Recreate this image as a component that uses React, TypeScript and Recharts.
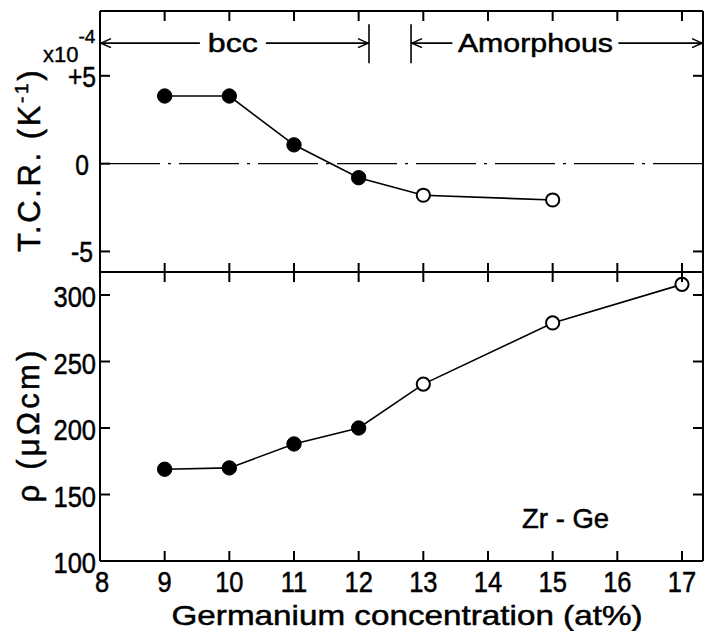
import React from 'react';
import { LineChart, Line, XAxis, YAxis, ReferenceLine, Label } from 'recharts';

// ---------- data ----------
const concentrations = [9, 10, 11, 12, 13, 15, 17];
const phases = ['bcc', 'bcc', 'bcc', 'bcc', 'amorphous', 'amorphous', 'amorphous'];
const tcrValues = [3.85, 3.85, 1.07, -0.8, -1.8, -2.07]; // x10^-4 K^-1 (9..15 at%)
const resistivityValues = [169, 170, 188, 200, 233, 279, 308]; // µΩcm
const xTicks = [8, 9, 10, 11, 12, 13, 14, 15, 16, 17];
const innerXTicks = [9, 10, 11, 12, 13, 14, 15, 16, 17];
const tcrTicks = [-5, 0, 5];
const tcrTickLabels = ['-5', '0', '+5'];
const tcrRightTicks = [-5, 5];
const rhoTicks = [100, 150, 200, 250, 300];
const rhoRightTicks = [150, 200, 250, 300];
const xDomain = [8, 17.325];
const tcrDomain = [-6.17, 8.69];
const rhoDomain = [100, 317.3];
const bccEnd = 12.16;
const amorphousStart = 12.81;
const regionArrowLevel = 6.86;
const regionBarRange = [5.71, 7.94];
const alloyLabel = 'Zr - Ge';
const alloyLabelPos = { x: 15.2, y: 132 };

const tcrRows = tcrValues.map((v, i) => ({ x: concentrations[i], y: v, phase: phases[i] }));
const rhoRows = resistivityValues.map((v, i) => ({ x: concentrations[i], y: v, phase: phases[i] }));

// plot-frame geometry (layout only)
const PLOT_WIDTH = 603;
const PLOT2_HEIGHT = 289;

const FONT = '"Liberation Sans", Arial, sans-serif';
const AX = { stroke: '#000', strokeWidth: 2 };

// ---------- shapes ----------
const PointDot = (props: any) => {
  const { cx, cy, payload } = props;
  if (cx == null || cy == null) return null;
  if (payload.phase === 'bcc') {
    return <circle cx={cx} cy={cy} r={7.2} fill="#000" stroke="#000" strokeWidth={1} />;
  }
  return <circle cx={cx} cy={cy} r={6.6} fill="#fff" stroke="#000" strokeWidth={2} />;
};

const makeSpanShape = (label: string, frac: number, halfGap: number, textLen: number) => (p: any) => {
  const { x1, x2, y1 } = p;
  const cx = x1 + (x2 - x1) * frac;
  const a = 11;
  const h = 4.5;
  return (
    <g>
      <line x1={x1} y1={y1} x2={cx - halfGap} y2={y1} stroke="#000" strokeWidth={1.6} />
      <line x1={cx + halfGap} y1={y1} x2={x2} y2={y1} stroke="#000" strokeWidth={1.6} />
      <path d={`M${x1 + a},${y1 - h} L${x1 + 1},${y1} L${x1 + a},${y1 + h}`} fill="none" stroke="#000" strokeWidth={1.6} />
      <path d={`M${x2 - a},${y1 - h} L${x2 - 1},${y1} L${x2 - a},${y1 + h}`} fill="none" stroke="#000" strokeWidth={1.6} />
      <text x={cx} y={y1 + 9} textAnchor="middle" fontSize={26} fontFamily={FONT} fill="#000"
        stroke="#000" strokeWidth={0.5} textLength={textLen} lengthAdjust="spacingAndGlyphs">{label}</text>
    </g>
  );
};

const TextShape = (p: any) => (
  <text x={p.x1} y={p.y1 + 10} textAnchor="middle" fontSize={28} fontFamily={FONT} fill="#000"
    stroke="#000" strokeWidth={0.5} textLength={87} lengthAdjust="spacingAndGlyphs">{alloyLabel}</text>
);

// ---------- ticks ----------
const TopTickEl = (p: any) => (
  <g>
    <path d={`M${p.x},${p.y} L${p.x},${p.y + 10}`} stroke="#000" strokeWidth={2} fill="none" />
  </g>
);
// bottom axis of lower panel: labels + inward ticks, plus the inward ticks on the shared divider
const bottomTickLabeled = (p: any) => {
  const v = p.payload.value;
  const top = p.y - PLOT2_HEIGHT;
  return (
    <g>
      {v !== 8 && <line x1={p.x} x2={p.x} y1={p.y} y2={p.y - 10} stroke="#000" strokeWidth={2} />}
      {v !== 8 && <line x1={p.x} x2={p.x} y1={top - 9} y2={top + 10} stroke="#000" strokeWidth={2} />}
      <text transform={`translate(${p.x + (v === 8 ? 2 : 0)},${p.y + 31}) scale(0.85,1)`}
        textAnchor="middle" fontSize={30} fontFamily={FONT} fill="#000" stroke="#000" strokeWidth={0.5}>
        {v}
      </text>
    </g>
  );
};
const tcrLeftTick = (p: any) => {
  const v = p.payload.value;
  const idx = tcrTicks.indexOf(v);
  const right = p.x + PLOT_WIDTH;
  return (
    <g>
      <line x1={p.x} x2={p.x + 10} y1={p.y} y2={p.y} stroke="#000" strokeWidth={2} />
      {tcrRightTicks.includes(v) && <line x1={right - 10} x2={right} y1={p.y} y2={p.y} stroke="#000" strokeWidth={2} />}
      <text transform={`translate(${p.x - 18},${p.y + 11}) scale(0.85,1)`} textAnchor="middle" fontSize={29}
        fontFamily={FONT} fill="#000" stroke="#000" strokeWidth={0.5}>{tcrTickLabels[idx]}</text>
    </g>
  );
};
const rhoLeftTick = (p: any) => {
  const v = p.payload.value;
  const right = p.x + PLOT_WIDTH;
  return (
    <g>
      {v !== 100 && <line x1={p.x} x2={p.x + 10} y1={p.y} y2={p.y} stroke="#000" strokeWidth={2} />}
      {rhoRightTicks.includes(v) && <line x1={right - 10} x2={right} y1={p.y} y2={p.y} stroke="#000" strokeWidth={2} />}
      <text transform={`translate(${p.x - 4},${p.y + 12}) scale(0.85,1)`} textAnchor="end" fontSize={30}
        fontFamily={FONT} fill="#000" stroke="#000" strokeWidth={0.5}>{v}</text>
    </g>
  );
};

// ---------- titles (chart-local coordinates) ----------
const TcrTitle = () => (
  <g>
    <text transform="translate(40,169) rotate(-90)" textAnchor="middle" fontSize={31} fontFamily={FONT}
      fill="#000" stroke="#000" strokeWidth={0.5} letterSpacing={2.6}>
      T.C.R. (K<tspan fontSize={19} dy={-12}>-1</tspan><tspan dy={12}>)</tspan>
    </text>
    <text x={43} y={71} fontSize={22} fontFamily={FONT} fill="#000" stroke="#000" strokeWidth={0.4}>
      x10<tspan fontSize={19} dy={-19}>-4</tspan>
    </text>
  </g>
);
const RhoTitle = () => (
  <text transform="translate(39,173) rotate(-90)" textAnchor="middle" fontSize={31} fontFamily={FONT}
    fill="#000" stroke="#000" strokeWidth={0.5} letterSpacing={3.2}>
    ρ (μΩcm)
  </text>
);
const XTitle = () => (
  <text x={407} y={373} textAnchor="middle" fontSize={28} fontFamily={FONT} fill="#000"
    stroke="#000" strokeWidth={0.5} textLength={471} lengthAdjust="spacingAndGlyphs">
    Germanium concentration (at%)
  </text>
);

export default function App() {
  return (
    <div style={{ position: 'absolute', left: 0, top: 0, width: 707, height: 631, background: '#fff', overflow: 'hidden' }}>
      <div style={{ position: 'absolute', left: 0, top: -9 }}>
        <LineChart width={723} height={301} data={tcrRows} margin={{ top: 0, right: 0, bottom: 0, left: 40 }}>
          <XAxis xAxisId="b" dataKey="x" type="number" domain={xDomain} allowDataOverflow ticks={xTicks}
            interval={0} orientation="bottom" height={20} tickLine={false} tick={false} axisLine={AX} />
          <XAxis xAxisId="t" dataKey="x" type="number" domain={xDomain} allowDataOverflow ticks={innerXTicks}
            interval={0} orientation="top" height={20} tickSize={0} tickMargin={0} tickLine={false}
            axisLine={AX} tick={<TopTickEl />}>
            <Label content={() => null} />
          </XAxis>
          <YAxis yAxisId="l" type="number" domain={tcrDomain} allowDataOverflow ticks={tcrTicks} interval={0}
            width={60} tickSize={0} tickMargin={0} tickLine={false} axisLine={AX} tick={tcrLeftTick}>
            <Label content={<TcrTitle />} />
          </YAxis>
          <YAxis yAxisId="r" orientation="right" type="number" domain={tcrDomain} allowDataOverflow
            ticks={tcrTicks} interval={0} width={20} tickLine={false} tick={false} axisLine={AX} />
          <ReferenceLine xAxisId="b" yAxisId="l" y={0} stroke="#000" strokeWidth={1.4} strokeDasharray="60 8 3 8" />
          <ReferenceLine xAxisId="b" yAxisId="l"
            segment={[{ x: xDomain[0], y: regionArrowLevel }, { x: bccEnd, y: regionArrowLevel }]}
            shape={makeSpanShape('bcc', 0.494, 33, 50)} />
          <ReferenceLine xAxisId="b" yAxisId="l"
            segment={[{ x: amorphousStart, y: regionArrowLevel }, { x: xDomain[1], y: regionArrowLevel }]}
            shape={makeSpanShape('Amorphous', 0.426, 83, 155)} />
          <ReferenceLine xAxisId="b" yAxisId="l" stroke="#000" strokeWidth={1.6}
            segment={[{ x: bccEnd, y: regionBarRange[0] }, { x: bccEnd, y: regionBarRange[1] }]} />
          <ReferenceLine xAxisId="b" yAxisId="l" stroke="#000" strokeWidth={1.6}
            segment={[{ x: amorphousStart, y: regionBarRange[0] }, { x: amorphousStart, y: regionBarRange[1] }]} />
          <Line xAxisId="b" yAxisId="l" dataKey="y" type="linear" stroke="#000" strokeWidth={1.6}
            dot={<PointDot />} activeDot={false} isAnimationActive={false} />
        </LineChart>
      </div>
      <div style={{ position: 'absolute', left: 0, top: 252 }}>
        <LineChart width={723} height={379} data={rhoRows} margin={{ top: 0, right: 0, bottom: 0, left: 40 }}>
          <XAxis xAxisId="b" dataKey="x" type="number" domain={xDomain} allowDataOverflow ticks={xTicks}
            interval={0} orientation="bottom" height={70} tickSize={0} tickMargin={0} tickLine={false}
            axisLine={AX} tick={bottomTickLabeled}>
            <Label content={<XTitle />} />
          </XAxis>
          <XAxis xAxisId="t" dataKey="x" type="number" domain={xDomain} allowDataOverflow ticks={xTicks}
            interval={0} orientation="top" height={20} tickLine={false} tick={false} axisLine={AX} />
          <YAxis yAxisId="l" type="number" domain={rhoDomain} allowDataOverflow ticks={rhoTicks} interval={0}
            width={60} tickSize={0} tickMargin={0} tickLine={false} axisLine={AX} tick={rhoLeftTick}>
            <Label content={<RhoTitle />} />
          </YAxis>
          <YAxis yAxisId="r" orientation="right" type="number" domain={rhoDomain} allowDataOverflow
            ticks={rhoTicks} interval={0} width={20} tickLine={false} tick={false} axisLine={AX} />
          <ReferenceLine xAxisId="b" yAxisId="l"
            segment={[alloyLabelPos, alloyLabelPos]} shape={TextShape} />
          <Line xAxisId="b" yAxisId="l" dataKey="y" type="linear" stroke="#000" strokeWidth={1.6}
            dot={<PointDot />} activeDot={false} isAnimationActive={false} />
        </LineChart>
      </div>
    </div>
  );
}
